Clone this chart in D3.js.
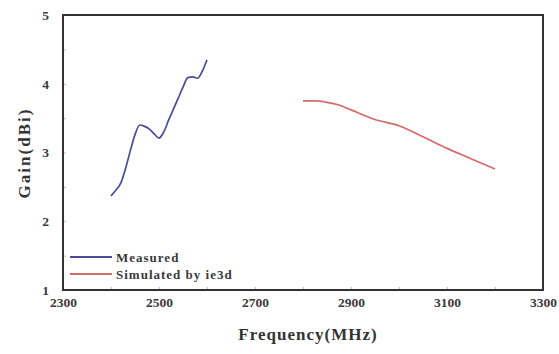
<!DOCTYPE html>
<html><head><meta charset="utf-8">
<script src="https://cdn.jsdelivr.net/npm/d3@7"></script>
<style>body{margin:0;background:#fff}svg{display:block}</style>
</head><body>
<script>
const xTicks = [2300, 2500, 2700, 2900, 3100, 3300];
const yTicks = [1, 2, 3, 4, 5];
const measuredFreq = [2400, 2410, 2420, 2430, 2440, 2450, 2460, 2470, 2480, 2490, 2500, 2510, 2520, 2530, 2540, 2550, 2560, 2570, 2580, 2590, 2600];
const measuredGain = [2.37, 2.45, 2.55, 2.76, 3.02, 3.26, 3.40, 3.38, 3.34, 3.27, 3.21, 3.30, 3.47, 3.63, 3.79, 3.95, 4.09, 4.10, 4.08, 4.18, 4.35];
const simFreq = [2800, 2825, 2850, 2875, 2900, 2950, 3000, 3050, 3100, 3150, 3200];
const simGain = [3.75, 3.75, 3.73, 3.69, 3.62, 3.48, 3.39, 3.23, 3.06, 2.91, 2.76];
const seriesNames = ["Measured", "Simulated by ie3d"];
const seriesColors = ["#4b4b9c", "#d46a6a"];

const W = 559, H = 354;
const m = {l: 63, r: 16, t: 15, b: 64};
const svg = d3.select("body").append("svg").attr("width", W).attr("height", H);
const x = d3.scaleLinear().domain([2300, 3300]).range([m.l, W - m.r]);
const y = d3.scaleLinear().domain([1, 5]).range([H - m.b, m.t]);
const font = "'Liberation Serif', 'Times New Roman', serif";

// faint inner minor ticks
const xa = svg.append("g").attr("transform", `translate(0,${H - m.b})`)
  .call(d3.axisTop(x).tickValues(d3.range(2300, 3301, 100)).tickSize(3).tickFormat(""));
xa.select(".domain").remove();
xa.selectAll("line").attr("stroke", "#bbb");
const ya = svg.append("g").attr("transform", `translate(${m.l},0)`)
  .call(d3.axisRight(y).tickValues(d3.range(1, 5.01, 0.5)).tickSize(3).tickFormat(""));
ya.select(".domain").remove();
ya.selectAll("line").attr("stroke", "#bbb");

// tick labels via axes
const xl = svg.append("g").attr("transform", `translate(0,${H - m.b})`)
  .call(d3.axisBottom(x).tickValues(xTicks).tickSize(0).tickPadding(7).tickFormat(d3.format("d")));
xl.select(".domain").remove();
xl.selectAll("text").attr("font-family", font).attr("font-weight", "bold").attr("font-size", 13.5).attr("fill", "#3a3a3a");
const yl = svg.append("g").attr("transform", `translate(${m.l},0)`)
  .call(d3.axisLeft(y).tickValues(yTicks).tickSize(0).tickPadding(14).tickFormat(d3.format("d")));
yl.select(".domain").remove();
yl.selectAll("text").attr("font-family", font).attr("font-weight", "bold").attr("font-size", 13.5).attr("fill", "#3a3a3a");

// frame
svg.append("rect").attr("x", m.l).attr("y", m.t).attr("width", W - m.l - m.r).attr("height", H - m.t - m.b)
  .attr("fill", "none").attr("stroke", "#333").attr("stroke-width", 2);

const line = d3.line().x(d => x(d[0])).y(d => y(d[1])).curve(d3.curveMonotoneX);
svg.append("path").datum(measuredFreq.map((f, i) => [f, measuredGain[i]]))
  .attr("d", line).attr("fill", "none").attr("stroke", seriesColors[0]).attr("stroke-width", 1.7);
svg.append("path").datum(simFreq.map((f, i) => [f, simGain[i]]))
  .attr("d", line).attr("fill", "none").attr("stroke", seriesColors[1]).attr("stroke-width", 1.7);

// legend
const lg = svg.append("g");
seriesNames.forEach((n, i) => {
  const yy = 257 + i * 17;
  lg.append("line").attr("x1", 70).attr("x2", 112).attr("y1", yy).attr("y2", yy)
    .attr("stroke", seriesColors[i]).attr("stroke-width", 2.2);
  lg.append("text").attr("x", 116).attr("y", yy).attr("dy", "0.35em")
    .attr("font-family", font).attr("font-weight", "bold").attr("font-size", 13).attr("letter-spacing", 1)
    .attr("fill", "#3a3a3a").text(n);
});

// axis titles
svg.append("text").attr("x", (m.l + W - m.r) / 2 + 5).attr("y", 340).attr("text-anchor", "middle")
  .attr("font-family", font).attr("font-weight", "bold").attr("font-size", 17).attr("letter-spacing", 1)
  .attr("fill", "#333").text("Frequency(MHz)");
svg.append("text").attr("transform", `translate(30,153) rotate(-90)`).attr("text-anchor", "middle")
  .attr("font-family", font).attr("font-weight", "bold").attr("font-size", 17).attr("letter-spacing", 2)
  .attr("fill", "#333").text("Gain(dBi)");
</script>
</body></html>
